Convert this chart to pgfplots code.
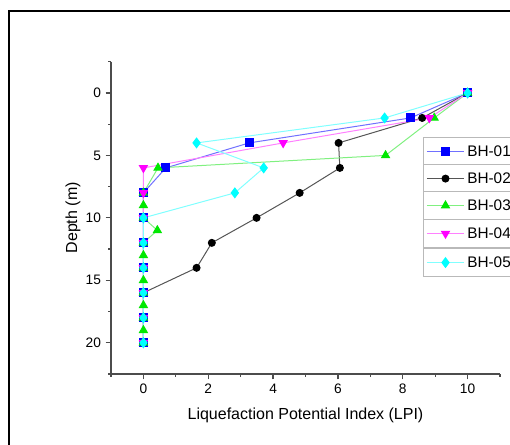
\documentclass[border=0pt]{standalone}
\usepackage{pgfplots}
\pgfplotsset{compat=1.18}
\usepackage{fontspec}
\setmainfont{Liberation Sans}

\definecolor{bluel}{HTML}{7070FF}
\definecolor{bluem}{HTML}{0000FF}
\definecolor{blackl}{HTML}{555555}
\definecolor{greenl}{HTML}{80F080}
\definecolor{greenm}{HTML}{00E800}
\definecolor{magl}{HTML}{FF80FF}
\definecolor{magm}{HTML}{FF00FF}
\definecolor{cyanl}{HTML}{80FFFF}
\definecolor{cyanm}{HTML}{00FFFF}

% 1 px of the 510x445 image = 0.75pt
\pgfplotsset{
  bh01/.style={color=bluel, line width=0.75pt, mark=square*, mark size=3pt, mark options={fill=bluem, draw=bluem}},
  bh02/.style={color=blackl, line width=0.75pt, mark=*, mark size=2.6pt, mark options={fill=black, draw=black}},
  bh03/.style={color=greenl, line width=0.75pt, mark=triangle*, mark size=3.4pt, mark options={fill=greenm, draw=greenm}},
  bh04/.style={color=magl, line width=0.75pt, mark=triangle*, mark size=3.4pt, mark options={fill=magm, draw=magm, rotate=180}},
  bh05/.style={color=cyanl, line width=0.75pt, mark=diamond*, mark size=3.6pt, mark options={fill=cyanm, draw=cyanm}},
  legbox/.style={
    hide axis, scale only axis, width=1pt, height=1pt,
    xmin=0, xmax=1, ymin=0, ymax=1,
    anchor=north west,
    legend style={at={(0,1)}, anchor=north west, draw=gray!55, line width=1pt,
      font=\fontsize{11.5}{13}\selectfont, inner xsep=2pt, inner ysep=3.2pt,
      text height=9pt, text depth=1pt},
    legend image code/.code={\draw[mark repeat=2, mark phase=2, ##1] plot coordinates {(0pt,0pt) (14pt,0pt) (28pt,0pt)};},
  },
}

\begin{document}
\begin{tikzpicture}
\useasboundingbox (0,0) rectangle (382.5pt,333.75pt);
\draw[line width=1.5pt] (6.375pt,-4pt) -- (6.375pt,325.725pt) -- (390pt,325.725pt);

\begin{axis}[
  at={(83.25pt,53.25pt)}, anchor=south west,
  scale only axis, width=291.75pt, height=234.2pt,
  xmin=-1, xmax=11, ymin=-2.5, ymax=22.5,
  y dir=reverse,
  axis lines=left, axis line style={-, line width=0.9pt, color=black!70},
  xtick={0,2,...,10}, ytick={0,5,...,20},
  minor xtick={-1,1,...,11}, minor ytick={-2.5,2.5,...,22.5},
  tick align=outside, major tick length=4pt, minor tick length=2pt,
  every tick/.style={black!70, line width=0.9pt},
  tick label style={font=\fontsize{10.3}{12}\selectfont},
  /pgf/number format/assume math mode=true,
  xlabel={Liquefaction Potential Index (LPI)},
  ylabel={Depth (m)},
  every axis x label/.style={at={(axis description cs:0.5,-0.131)}, anchor=center, font=\fontsize{12}{14}\selectfont},
  every axis y label/.style={at={(axis description cs:-0.098,0.5)}, anchor=center, rotate=90, font=\fontsize{12}{14}\selectfont},
  clip=false,
]
\addplot[bh01] coordinates {(10,0) (8.24,2) (3.26,4) (0.69,6) (0,8) (0,10) (0,12) (0,14) (0,16) (0,18) (0,20)};
\addplot[bh02] coordinates {(10,0) (8.6,2) (6.02,4) (6.06,6) (4.82,8) (3.49,10) (2.11,12) (1.64,14) (0,16) (0,18) (0,20)};
\addplot[bh03] coordinates {(10,0) (8.97,2) (7.47,5) (0.45,6) (0,8) (0,9) (0,10) (0.43,11) (0,12) (0,13) (0,14) (0,15) (0,16) (0,17) (0,18) (0,19) (0,20)};
\addplot[bh04] coordinates {(10,0) (8.82,2) (4.31,4) (0,6) (0,8) (0,10) (0,12) (0,14) (0,16) (0,18) (0,20)};
\addplot[bh05] coordinates {(10,0) (7.44,2) (1.64,4) (3.71,6) (2.82,8) (0,10) (0,12) (0,14) (0,16) (0,18) (0,20)};
\end{axis}

\begin{axis}[legbox, at={(317.25pt,231pt)}]
\addlegendimage{bh01}\addlegendentry{BH-01}
\end{axis}
\begin{axis}[legbox, at={(317.25pt,210.75pt)}]
\addlegendimage{bh02}\addlegendentry{BH-02}
\end{axis}
\begin{axis}[legbox, at={(317.25pt,190.5pt)}]
\addlegendimage{bh03}\addlegendentry{BH-03}
\end{axis}
\begin{axis}[legbox, at={(317.25pt,169.5pt)}]
\addlegendimage{bh04}\addlegendentry{BH-04}
\end{axis}
\begin{axis}[legbox, at={(317.25pt,147.75pt)}]
\addlegendimage{bh05}\addlegendentry{BH-05}
\end{axis}
\end{tikzpicture}
\end{document}
